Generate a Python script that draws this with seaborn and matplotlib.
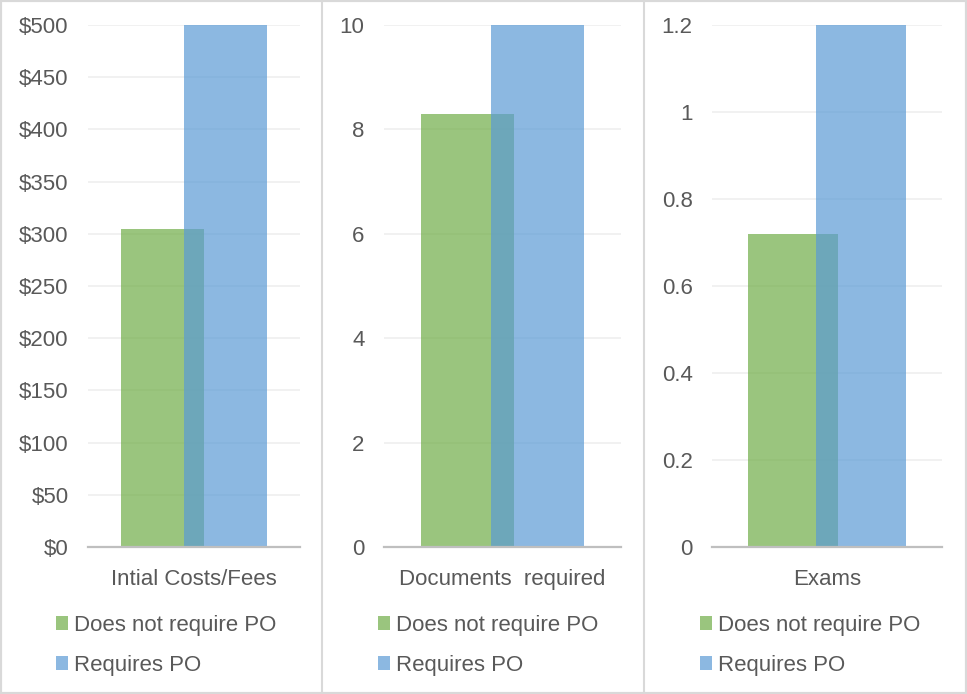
import matplotlib
matplotlib.use("Agg")
import matplotlib.pyplot as plt
from matplotlib.ticker import FuncFormatter, MultipleLocator
from matplotlib.patches import Patch, Rectangle
from matplotlib.lines import Line2D
import pandas as pd
import seaborn as sns

# Data
measures = ["Intial Costs/Fees", "Documents  required", "Exams"]
groups = ["Does not require PO", "Requires PO"]
no_po = [305, 8.3, 0.72]
with_po = [500, 10, 1.2]
y_max = [500, 10, 1.2]
y_step = [50, 2, 0.2]
dollar_axis = [True, False, False]

# Style
GREEN = "#70AD47"
BLUE = "#5B9BD5"
TEXT = "#595959"
GRID = "#EEEEEE"
AXIS = "#BFBFBF"
BORDER = "#D9D9D9"
FS = 16

sns.set_theme(style="white")
plt.rcParams["font.family"] = ["Liberation Sans", "DejaVu Sans"]

W, H = 967, 694
fig = plt.figure(figsize=(W / 100, H / 100), dpi=100)

# axes boxes in pixels: (left, right), shared top/bottom
ax_x = [(88, 300), (384, 621), (712, 942)]
top_px, bottom_px = 25, 547
panel_centers = [166, 488, 810]


def make_fmt(dollar):
    def fmt(v, _pos):
        v = round(v, 6)
        s = f"{v:g}"
        return f"${s}" if dollar else s
    return FuncFormatter(fmt)


for i, m in enumerate(measures):
    l, r = ax_x[i]
    ax = fig.add_axes([l / W, 1 - bottom_px / H, (r - l) / W, (bottom_px - top_px) / H])
    df = pd.DataFrame({
        "measure": [m, m],
        "group": groups,
        "value": [no_po[i], with_po[i]],
    })
    sns.barplot(
        data=df, x="measure", y="value", hue="group", hue_order=groups,
        palette=[GREEN, BLUE], width=0.59, gap=-0.32, dodge=True,
        saturation=1, alpha=0.7, errorbar=None, legend=False, ax=ax,
        zorder=2, linewidth=0,
    )
    ax.set_ylim(0, y_max[i])
    ax.yaxis.set_major_locator(MultipleLocator(y_step[i]))
    ax.yaxis.set_major_formatter(make_fmt(dollar_axis[i]))
    ax.grid(axis="y", color=GRID, linewidth=1.1, zorder=0)
    ax.set_axisbelow(True)
    for side in ("top", "right", "left"):
        ax.spines[side].set_visible(False)
    ax.spines["bottom"].set_color(AXIS)
    ax.spines["bottom"].set_linewidth(1.6)
    ax.spines["bottom"].set_zorder(3)
    ax.tick_params(axis="y", length=0, pad=14, labelsize=FS, labelcolor=TEXT)
    ax.tick_params(axis="x", length=0, pad=15.5, labelsize=FS, labelcolor=TEXT)
    ax.set_xlabel("")
    ax.set_ylabel("")
    ax.set_facecolor("white")

    handles = [Patch(facecolor=GREEN, alpha=0.7, linewidth=0),
               Patch(facecolor=BLUE, alpha=0.7, linewidth=0)]
    ax.legend(
        handles, groups, loc="upper center",
        bbox_to_anchor=(panel_centers[i] / W, 1 - 615 / H),
        bbox_transform=fig.transFigure, frameon=False, fontsize=FS,
        labelcolor=TEXT, handlelength=0.55, handleheight=0.55,
        handletextpad=0.25, labelspacing=0.85, borderpad=0, borderaxespad=0,
    )

# chart-area frame and panel dividers
fig.add_artist(Rectangle((0, 0), 1, 1, transform=fig.transFigure, fill=False,
                         edgecolor=BORDER, linewidth=3))
for xp in (322, 644):
    fig.add_artist(Line2D([xp / W, xp / W], [0, 1], transform=fig.transFigure,
                          color=BORDER, linewidth=1.5))

fig.savefig("out.png", dpi=100, facecolor="white")
